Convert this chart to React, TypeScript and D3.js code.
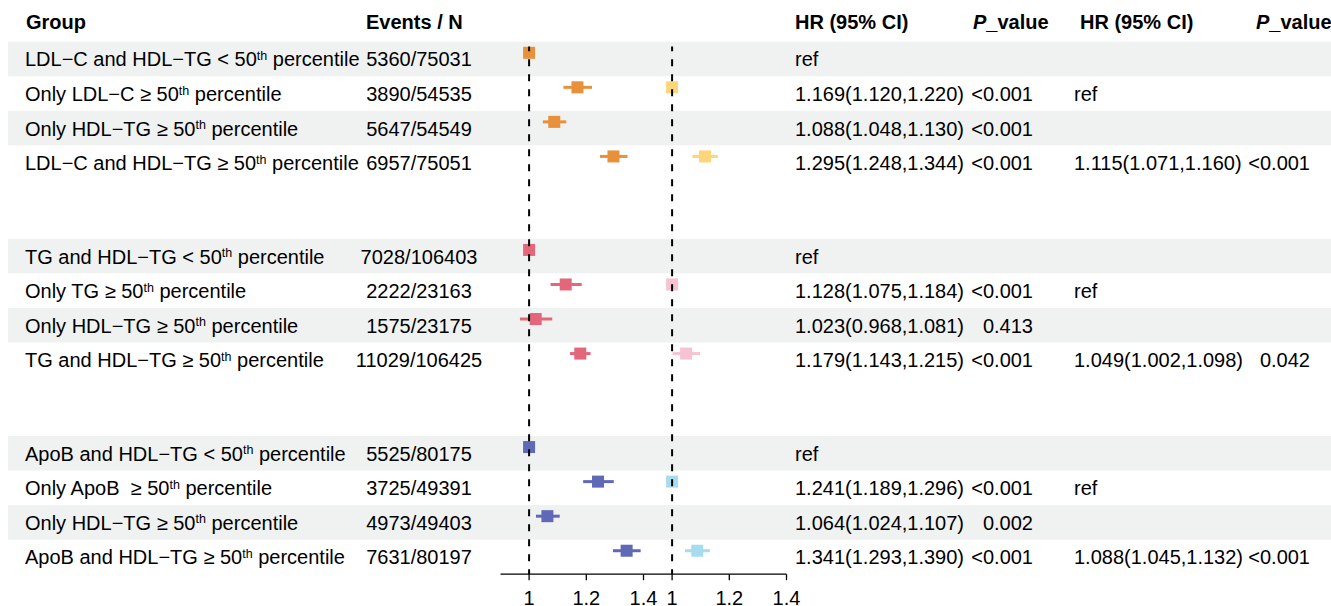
import React from "react";
import * as d3 from "d3";

// ---------- data ----------
const groupOf = [0, 0, 0, 0, 1, 1, 1, 1, 2, 2, 2, 2];
const labels = [
  "LDL−C and HDL−TG < 50th percentile",
  "Only LDL−C ≥ 50th percentile",
  "Only HDL−TG ≥ 50th percentile",
  "LDL−C and HDL−TG ≥ 50th percentile",
  "TG and HDL−TG < 50th percentile",
  "Only TG ≥ 50th percentile",
  "Only HDL−TG ≥ 50th percentile",
  "TG and HDL−TG ≥ 50th percentile",
  "ApoB and HDL−TG < 50th percentile",
  "Only ApoB  ≥ 50th percentile",
  "Only HDL−TG ≥ 50th percentile",
  "ApoB and HDL−TG ≥ 50th percentile",
];
const eventsN = [
  "5360/75031", "3890/54535", "5647/54549", "6957/75051",
  "7028/106403", "2222/23163", "1575/23175", "11029/106425",
  "5525/80175", "3725/49391", "4973/49403", "7631/80197",
];
// model 1 (null lo/hi = reference)
const hr1Est = [1, 1.169, 1.088, 1.295, 1, 1.128, 1.023, 1.179, 1, 1.241, 1.064, 1.341];
const hr1Lo = [null, 1.12, 1.048, 1.248, null, 1.075, 0.968, 1.143, null, 1.189, 1.024, 1.293];
const hr1Hi = [null, 1.22, 1.13, 1.344, null, 1.184, 1.081, 1.215, null, 1.296, 1.107, 1.39];
const p1 = ["", "<0.001", "<0.001", "<0.001", "", "<0.001", "0.413", "<0.001", "", "<0.001", "0.002", "<0.001"];
// model 2 (NaN = not estimated, null lo/hi = reference)
const hr2Est = [NaN, 1, NaN, 1.115, NaN, 1, NaN, 1.049, NaN, 1, NaN, 1.088];
const hr2Lo = [null, null, null, 1.071, null, null, null, 1.002, null, null, null, 1.045];
const hr2Hi = [null, null, null, 1.16, null, null, null, 1.098, null, null, null, 1.132];
const p2 = ["", "", "", "<0.001", "", "", "", "0.042", "", "", "", "<0.001"];

const darkColors = ["#E8903A", "#E3667A", "#5F69B5"];
const lightColors = ["#FDD57A", "#F7C3D1", "#A7DCEF"];
const xDomain = [0.9, 1.4];
const tickValues = [1, 1.2, 1.4];
const headers = ["Group", "Events / N", "HR (95% CI)", "P_value", "HR (95% CI)", "P_value"];

// ---------- layout ----------
const W = 1331;
const H = 606;
const FONT = "'Liberation Sans', Arial, Helvetica, sans-serif";
const FS = 20;
const ROW_H = 34.55;
const TOP0 = 41.7;
const GROUP_STEP = 197.15;

const rowTop = (i: number) => TOP0 + groupOf[i] * GROUP_STEP + (i % 4) * ROW_H;
const rowMid = (i: number) => rowTop(i) + ROW_H / 2;
const AXIS_Y = rowTop(11) + ROW_H;

const x1 = d3.scaleLinear().domain(xDomain).range([500.5, 643.5]);
const x2 = d3.scaleLinear().domain(xDomain).range([643.5, 786.5]);

const fmt = d3.format(".3f");
const hrText = (est: number, lo: number | null, hi: number | null) =>
  Number.isNaN(est) ? "" : lo == null || hi == null ? "ref" : `${fmt(est)}(${fmt(lo)},${fmt(hi)})`;

function Label({ text, x, y }: { text: string; x: number; y: number }) {
  const idx = text.indexOf("50th");
  if (idx < 0) {
    return (
      <text x={x} y={y} style={{ whiteSpace: "pre" }}>
        {text}
      </text>
    );
  }
  const before = text.slice(0, idx + 2);
  const after = text.slice(idx + 4);
  return (
    <text x={x} y={y} style={{ whiteSpace: "pre" }}>
      <tspan>{before}</tspan>
      <tspan fontSize={12.5} dy={-6.5}>th</tspan>
      <tspan dy={6.5}>{after}</tspan>
    </text>
  );
}

function Panel({ scale, est, lo, hi, colors }: any) {
  return (
    <g>
      {est.map((e: number, i: number) => {
        if (Number.isNaN(e)) return null;
        const c = colors[groupOf[i]];
        const cy = rowMid(i) - 6.2;
        const s = 12;
        return (
          <g key={i}>
            {lo[i] != null && hi[i] != null && (
              <line x1={scale(lo[i])} x2={scale(hi[i])} y1={cy} y2={cy} stroke={c} strokeWidth={3} />
            )}
            <rect x={scale(e) - s / 2} y={cy - s / 2} width={s} height={s} fill={c} />
          </g>
        );
      })}
    </g>
  );
}

export default function App() {
  const textBase = (i: number) => rowMid(i) + 7.5;
  const dashTop = 46.5;
  const HEAD_Y = 29;
  return (
    <svg
      width={W}
      height={H}
      style={{ position: "absolute", left: 0, top: 0, background: "#fff" }}
      fontFamily={FONT}
      fontSize={FS}
    >
      <rect x={0} y={0} width={W} height={H} fill="#fff" />
      {/* row bands */}
      {labels.map((_, i) =>
        i % 2 === 0 ? (
          <rect key={i} x={8} y={rowTop(i)} width={W - 8} height={ROW_H} fill="#EFF2F1" />
        ) : null
      )}
      {/* headers */}
      <g fontWeight="bold" fill="#000">
        <text x={26} y={HEAD_Y}>{headers[0]}</text>
        <text x={366} y={HEAD_Y}>{headers[1]}</text>
        <text x={795} y={HEAD_Y}>{headers[2]}</text>
        <text x={973} y={HEAD_Y}>
          <tspan fontStyle="italic">P</tspan>
          <tspan>{headers[3].slice(1)}</tspan>
        </text>
        <text x={1080} y={HEAD_Y}>{headers[4]}</text>
        <text x={1256} y={HEAD_Y}>
          <tspan fontStyle="italic">P</tspan>
          <tspan>{headers[5].slice(1)}</tspan>
        </text>
      </g>
      {/* text columns */}
      <g fill="#000">
        {labels.map((l, i) => (
          <Label key={"l" + i} text={l} x={25} y={textBase(i)} />
        ))}
        {eventsN.map((t, i) => (
          <text key={"e" + i} x={419} y={textBase(i)} textAnchor="middle">{t}</text>
        ))}
        {hr1Est.map((e, i) => (
          <text key={"h1" + i} x={795} y={textBase(i)}>{hrText(e, hr1Lo[i], hr1Hi[i])}</text>
        ))}
        {p1.map((t, i) => (
          <text key={"p1" + i} x={1033} y={textBase(i)} textAnchor="end">{t}</text>
        ))}
        {hr2Est.map((e, i) => (
          <text key={"h2" + i} x={1074} y={textBase(i)}>{hrText(e, hr2Lo[i], hr2Hi[i])}</text>
        ))}
        {p2.map((t, i) => (
          <text key={"p2" + i} x={1310} y={textBase(i)} textAnchor="end">{t}</text>
        ))}
      </g>
      {/* forest marks */}
      <Panel scale={x1} est={hr1Est} lo={hr1Lo} hi={hr1Hi} colors={darkColors} />
      <Panel scale={x2} est={hr2Est} lo={hr2Lo} hi={hr2Hi} colors={lightColors} />
      {/* reference lines */}
      {[x1, x2].map((sc, k) => (
        <line
          key={"ref" + k}
          x1={sc(1)}
          x2={sc(1)}
          y1={dashTop}
          y2={AXIS_Y}
          stroke="#000"
          strokeWidth={2}
          strokeDasharray="7,8"
          strokeDashoffset={2.2}
        />
      ))}
      {/* axes */}
      {[x1, x2].map((sc, k) => (
        <g key={"ax" + k}>
          <line x1={sc.range()[0]} x2={sc.range()[1]} y1={AXIS_Y} y2={AXIS_Y} stroke="#000" strokeWidth={1.3} />
          {tickValues.map((t) => (
            <g key={t}>
              <line x1={sc(t)} x2={sc(t)} y1={AXIS_Y} y2={AXIS_Y + 6} stroke="#000" strokeWidth={1.3} />
              <text x={sc(t)} y={AXIS_Y + 30.5} textAnchor="middle" fill="#000">
                {d3.format("~g")(t)}
              </text>
            </g>
          ))}
        </g>
      ))}
    </svg>
  );
}
